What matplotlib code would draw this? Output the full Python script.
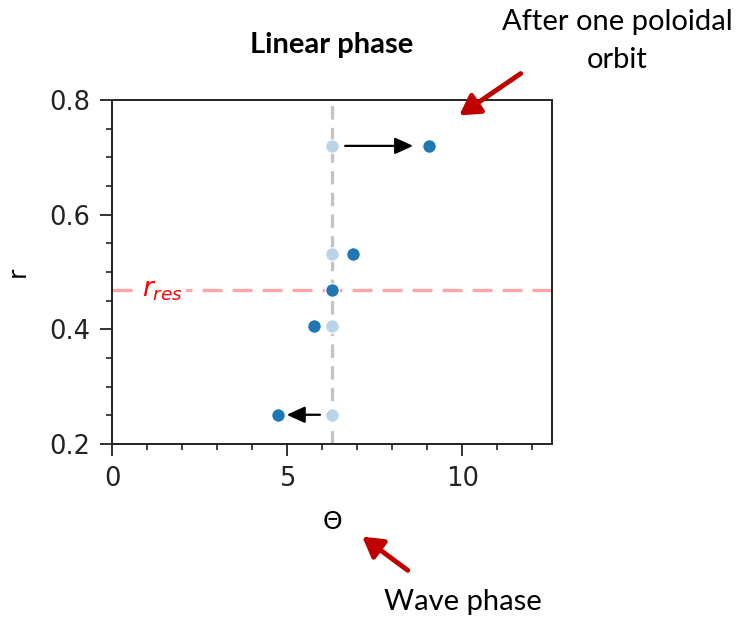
import numpy as np
import matplotlib
matplotlib.use("Agg")
import matplotlib.pyplot as plt
from matplotlib.ticker import MultipleLocator

plt.rcParams['font.family'] = ['DejaVu Sans']

# Data
r_initial = [0.72, 0.531, 0.468, 0.405, 0.251]
theta_initial = [2*np.pi]*5
theta_after = [9.04, 6.87, 6.29, 5.78, 4.75]
r_after = [0.72, 0.531, 0.468, 0.405, 0.251]
r_res = 0.468
theta_wave = 2*np.pi
xlim = (0, 4*np.pi)
ylim = (0.2, 0.8)
xticks = [0, 5, 10]
yticks = [0.2, 0.4, 0.6, 0.8]

fig = plt.figure(figsize=(7.4, 6.2), dpi=100)
ax = fig.add_axes([112/740, 1-444/620, 440/740, 344/620])

ax.axvline(theta_wave, color='#c4c4c4', ls=(0, (4, 2.5)), lw=2.4, zorder=1)
ax.axhline(r_res, color='red', ls=(0, (6, 3)), lw=2.4, alpha=0.35, zorder=1)

ax.scatter(theta_initial, r_initial, s=95, color='#b9d3e8', edgecolor='white', lw=0.8, zorder=3)
ax.scatter(theta_after, r_after, s=95, color='#1f77b4', edgecolor='white', lw=0.8, zorder=4)

ap = dict(arrowstyle='-|>,head_length=11,head_width=5', color='black', lw=1.6, mutation_scale=1,
          shrinkA=0, shrinkB=0)
ax.annotate('', xy=(8.6, 0.72), xytext=(6.66, 0.72), arrowprops=ap)
ax.annotate('', xy=(4.99, 0.251), xytext=(5.94, 0.251), arrowprops=ap)

ax.text(1.45, r_res, r'$r_{res}$', color='red', fontsize=19, ha='center', va='center',
        zorder=5, bbox=dict(facecolor='white', edgecolor='none', pad=2))

ax.set_xlim(*xlim)
ax.set_ylim(*ylim)
ax.set_xticks(xticks)
ax.set_yticks(yticks)
ax.xaxis.set_minor_locator(MultipleLocator(1))
ax.yaxis.set_minor_locator(MultipleLocator(0.05))
ax.tick_params(which='major', length=8.5, width=1.3, labelsize=18.5, pad=7, colors='#222222')
ax.tick_params(which='minor', length=4.5, width=1.2, colors='#222222')
for s in ax.spines.values():
    s.set_linewidth(1.4)
    s.set_color('#222222')
ax.set_xlabel('Θ', fontsize=18, labelpad=13)
ax.set_ylabel('r', fontsize=18, labelpad=14)

fig.text(332/740, 1-45/620, 'Linear phase', fontsize=21, fontweight='bold', family='Lato',
         ha='center', va='center')
fig.text(617/740, 1-22/620, 'After one poloidal', fontsize=21, family='Lato', ha='center', va='center')
fig.text(617/740, 1-60/620, 'orbit', fontsize=21, family='Lato', ha='center', va='center')
fig.text(463/740, 1-602/620, 'Wave phase', fontsize=21, family='Lato', ha='center', va='center')

fig.patches.append(matplotlib.patches.FancyArrowPatch(
    (523/740, 1-72/620), (457/740, 1-117/620), transform=fig.transFigure,
    arrowstyle='-|>,head_length=12,head_width=7', color='#c00000', lw=3.5, mutation_scale=1))
fig.patches.append(matplotlib.patches.FancyArrowPatch(
    (410/740, 1-572/620), (360/740, 1-535/620), transform=fig.transFigure,
    arrowstyle='-|>,head_length=12,head_width=7', color='#c00000', lw=3.5, mutation_scale=1))

fig.savefig('out.png', dpi=100, facecolor='white')
